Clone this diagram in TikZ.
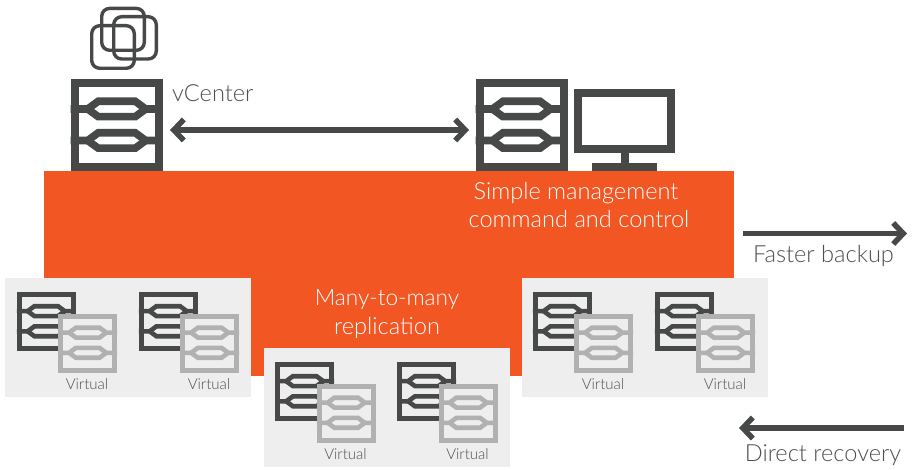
\documentclass[tikz,border=0pt]{standalone}
\usepackage{fontspec}
\setmainfont{Lato Light}
\usetikzlibrary{arrows.meta}
\definecolor{ink}{HTML}{474948}
\definecolor{soft}{HTML}{B1B1B1}
\definecolor{panelbg}{HTML}{EEEEEE}
\definecolor{brand}{HTML}{F15623}
\definecolor{labelgray}{HTML}{4D4F50}
\tikzset{
  x=1pt,y=-1pt,
  panel/.style={fill=panelbg,draw=none,inner sep=0pt,minimum width=245.5pt,minimum height=119pt,anchor=north west},
  srvbig/.style={draw=ink,fill=white,line width=8pt,inner sep=0pt,minimum size=84pt,anchor=north west},
  srvdark/.style={draw=ink,line width=5.2pt,inner sep=0pt,minimum size=54pt,anchor=north west},
  srvlight/.style={draw=soft,fill=panelbg,line width=5.2pt,inner sep=0pt,minimum size=54pt,anchor=north west},
  biglabel/.style={text=labelgray,font=\fontsize{23.6}{24}\selectfont,inner sep=0pt,anchor=base},
  whitelabel/.style={text=white,font=\fontsize{23.6}{24}\selectfont,inner sep=0pt,anchor=base},
  smalllabel/.style={text=labelgray,font=\fontsize{15}{16}\selectfont,inner sep=0pt},
  flow/.style={draw=ink,line width=5.5pt,-{Straight Barb[length=10pt,width=21pt,line width=5.5pt]}},
  flowboth/.style={draw=ink,line width=5.5pt,{Straight Barb[length=10pt,width=21pt,line width=5.5pt]}-{Straight Barb[length=10pt,width=21pt,line width=5.5pt]}},
  vmglyph/.style={draw=ink,line width=3.4pt,rounded corners=8pt},
}
\newcommand{\hexes}[4]{%
  \begin{scope}[shift={(#1)},x=#2pt,y=-#2pt,draw=#3,line width=#4pt,line join=miter]
    \foreach \yy in {-16.5,15} {
      \draw (-46,\yy) -- (-29,\yy) -- (-18.5,\yy-7.7) -- (18.5,\yy-7.7) -- (29,\yy) -- (46,\yy);
      \draw (-29,\yy) -- (-18.5,\yy+7.7) -- (18.5,\yy+7.7) -- (29,\yy);
    }
  \end{scope}}
\newcommand{\vmpair}[4]{%
  \node[srvdark] (#1d) at (#2+2.6,#3+2.6) {};
  \hexes{#1d.center}{0.64}{ink}{4.6}
  \node[srvlight] (#1l) at (#2+44.1,#3+24.1) {};
  \hexes{#1l.center}{0.64}{soft}{4.6}
  \node[smalllabel] (#1t) at (#2+73,#3+94.5) {#4};
}
\begin{document}
\begin{tikzpicture}
\useasboundingbox (0,0) rectangle (917,470);
\fill[white] (0,0) rectangle (917,470);
\node[fill=brand,inner sep=0pt,minimum width=690pt,minimum height=205pt,anchor=north west] (band) at (44,171) {};

\node[panel] (pa) at (5,278) {};
\node[panel] (pb) at (264,348) {};
\node[panel] (pc) at (522,278) {};

\node[srvbig] (vc) at (70.7,79.5) {};
\hexes{vc.center}{1}{ink}{7.6}
\node[srvbig] (mg) at (475.5,79.5) {};
\hexes{mg.center}{1}{ink}{7.6}

\draw[vmglyph] (101.7,8.4) rectangle (144.3,50.3);
\draw[vmglyph] (113.7,16.7) rectangle (156.3,59);
\draw[vmglyph] (91.7,25.7) rectangle (134.3,68.3);

\node[draw=ink,line width=8pt,inner sep=0pt,minimum width=93pt,minimum height=56pt,anchor=north west] (mon) at (574,89) {};
\fill[ink] (620.7,153) rectangle (629,163);
\fill[ink] (592,162.7) rectangle (657,171);

\coordinate (vcport) at (170,130);
\coordinate (mgport) at (469,130);
\draw[flowboth] (vcport) -- (mgport);

\coordinate (fbA) at (743,233.5);
\coordinate (fbB) at (907,233.5);
\draw[flow] (fbA) -- (fbB);
\coordinate (drA) at (904,428);
\coordinate (drB) at (739,428);
\draw[flow] (drA) -- (drB);

\node[biglabel,anchor=base west] (lvc) at (172,102) {vCenter};
\node[whitelabel] (l1) at (576,200) {Simple management};
\node[whitelabel] (l2) at (579,228) {command and control};
\node[whitelabel,font=\fontsize{22.6}{24}\selectfont] (l3) at (387,305) {Many-to-many};
\node[whitelabel] (l4) at (387,334) {replication};
\node[biglabel] (l5) at (823.5,262.5) {Faster backup};
\node[biglabel] (l6) at (823,461) {Direct recovery};

\vmpair{a}{14}{289.5}{Virtual}
\vmpair{b}{136}{289.5}{Virtual}
\vmpair{c}{272.5}{359.5}{Virtual}
\vmpair{d}{394.5}{359.5}{Virtual}
\vmpair{e}{530}{289.5}{Virtual}
\vmpair{f}{652}{289.5}{Virtual}
\end{tikzpicture}
\end{document}
